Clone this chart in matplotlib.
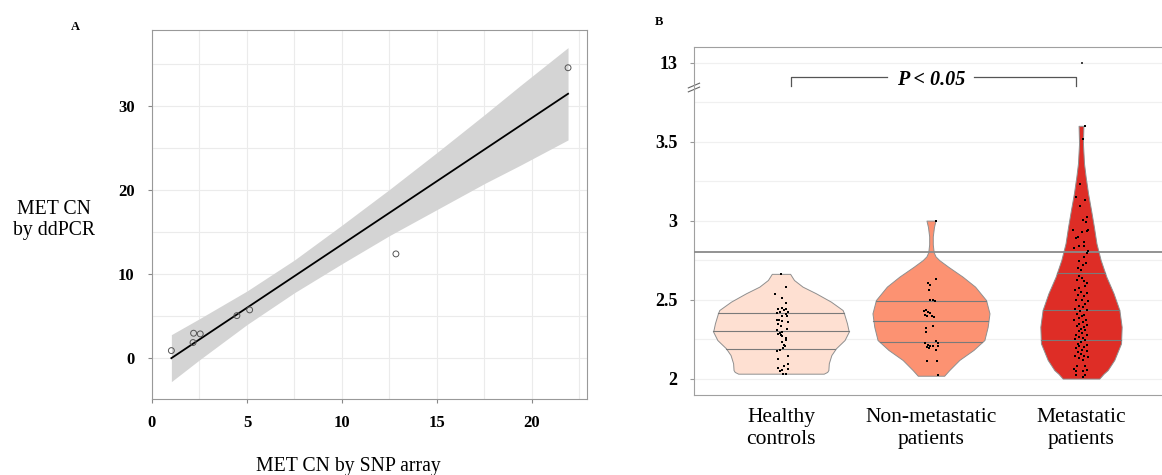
import numpy as np
import matplotlib
matplotlib.use("Agg")
import matplotlib.pyplot as plt

plt.rcParams['font.family'] = ['Liberation Serif', 'DejaVu Serif']

# panel A : MET copy number, SNP array vs ddPCR
snp_cn = [1.02, 2.16, 2.19, 2.54, 4.47, 5.14, 12.84, 21.9]
ddpcr_cn = [0.9, 1.86, 2.97, 2.89, 5.07, 5.75, 12.42, 34.6]
fit_x = [1.02, 21.9]
fit_y = [0.0, 31.5]
band_x = [1.02, 2.5, 5, 7.5, 10, 12.5, 15, 17.5, 19.4, 21.9]
band_lo = [-2.8, -0.2, 4.0, 7.8, 11.25, 14.6, 17.7, 20.8, 23.0, 26.0]
band_hi = [2.8, 4.7, 8.0, 11.7, 15.85, 20.1, 24.5, 29.0, 32.5, 37.0]

# panel B : violins
groups = ['Healthy\ncontrols', 'Non-metastatic\npatients', 'Metastatic\npatients']
fills = ['#FEE0D2', '#FC9272', '#DE2D26']

healthy_prof_y = [2.031, 2.042, 2.054, 2.097, 2.149, 2.192, 2.244, 2.297, 2.35, 2.413, 2.434, 2.487, 2.540, 2.582, 2.624, 2.663]
healthy_prof_w = [0.285, 0.308, 0.316, 0.319, 0.336, 0.367, 0.424, 0.452, 0.44, 0.42, 0.411, 0.333, 0.233, 0.144, 0.087, 0.061]
nonmet_prof_y = [2.018, 2.054, 2.118, 2.181, 2.244, 2.328, 2.413, 2.497, 2.582, 2.645, 2.708, 2.75, 2.774, 2.80, 2.85, 2.90, 2.96, 3.0]
nonmet_prof_w = [0.088, 0.122, 0.189, 0.283, 0.356, 0.378, 0.39, 0.367, 0.294, 0.211, 0.115, 0.055, 0.03, 0.018, 0.012, 0.012, 0.02, 0.03]
met_prof_y = [2.0, 2.03, 2.054, 2.118, 2.223, 2.328, 2.434, 2.54, 2.645, 2.751, 2.856, 2.961, 3.067, 3.173, 3.278, 3.363, 3.489, 3.60]
met_prof_w = [0.122, 0.15, 0.178, 0.222, 0.267, 0.271, 0.256, 0.217, 0.169, 0.131, 0.103, 0.086, 0.067, 0.047, 0.031, 0.02, 0.013, 0.016]

healthy_q = [2.187, 2.300, 2.414]
nonmet_q = [2.230, 2.366, 2.493]
met_q = [2.245, 2.431, 2.667]

healthy_y = [2.660, 2.580, 2.538, 2.511, 2.479, 2.447, 2.443, 2.441, 2.432, 2.420, 2.420, 2.416, 2.411, 2.399, 2.394,
             2.373, 2.369, 2.363, 2.359, 2.348, 2.335, 2.314, 2.306, 2.297, 2.289, 2.281, 2.274, 2.268, 2.257, 2.243,
             2.230, 2.215, 2.205, 2.194, 2.184, 2.173, 2.141, 2.124, 2.095, 2.078, 2.070, 2.063, 2.057, 2.046, 2.032, 2.032]
healthy_dx = [0, 0.033, -0.04, 0.004, 0.033, 0.009, 0.031, -0.022, 0.022, -0.007, 0.044, -0.024, 0.031, 0.004, 0.04,
              -0.024, -0.013, 0.009, 0.044, -0.018, 0, 0.04, -0.029, 0.004, -0.009, -0.018, 0, 0.009, 0.031, 0.036,
              0.004, 0.02, 0.027, 0.016, -0.007, -0.029, 0.044, -0.022, 0.049, 0.022, -0.018, 0.044, 0.004, -0.007, 0.016, 0.031]

nonmet_y = [3.0, 2.633, 2.606, 2.595, 2.563, 2.500, 2.496, 2.489, 2.437, 2.426, 2.420, 2.416, 2.405, 2.399, 2.394, 2.390,
            2.321, 2.331, 2.293, 2.236, 2.226, 2.226, 2.215, 2.209, 2.200, 2.194, 2.205, 2.205, 2.179, 2.110, 2.110, 2.025]
nonmet_dx = [0.033, 0.033, -0.018, -0.004, -0.011, -0.004, 0.011, 0.027, -0.033, -0.044, -0.022, -0.004, -0.04, -0.027, 0.004, 0.018,
             -0.033, 0.011, -0.033, 0.033, -0.038, 0.049, -0.022, -0.004, -0.027, -0.011, 0.011, 0.044, 0.033, -0.027, 0.04, 0.044]

met_y = [3.601, 3.519, 3.232, 3.148, 3.133, 3.095, 3.021, 3.006, 2.992, 2.943, 2.943, 2.928, 2.932, 2.894, 2.890, 2.865, 2.838, 2.838, 2.827, 2.806,
         2.795, 2.770, 2.743, 2.732, 2.722, 2.700, 2.686, 2.652, 2.637, 2.627,
         2.616, 2.606, 2.589, 2.574, 2.563, 2.546, 2.542, 2.532, 2.521, 2.500,
         2.496, 2.489, 2.475, 2.462, 2.454, 2.441, 2.437, 2.426, 2.411, 2.405,
         2.394, 2.384, 2.373, 2.369, 2.357, 2.348, 2.342, 2.331, 2.327, 2.314,
         2.310, 2.300, 2.289, 2.278, 2.278, 2.264, 2.257, 2.251, 2.243, 2.230,
         2.222, 2.215, 2.205, 2.200, 2.194, 2.184, 2.173, 2.167, 2.158, 2.146,
         2.141, 2.137, 2.131, 2.120, 2.082, 2.078, 2.061, 2.057, 2.046, 2.046,
         2.025, 2.021, 2.013]
met_dx = [0.029, 0.016, -0.004, -0.033, 0.027, -0.004, 0.038, 0.011, 0.033, -0.051, 0.044, 0.007, 0.038, -0.022, -0.033, 0.018, -0.016, 0.022, -0.044, 0.044,
          0.038, 0.022, -0.011, 0.033, 0.011, -0.022, 0, -0.011, 0.007, -0.029,
          0.022, 0.038, 0.029, -0.011, -0.038, 0, 0.038, -0.022, 0.022, 0.007,
          -0.033, 0.044, 0.029, -0.016, 0.011, -0.038, 0.038, -0.007, -0.029, 0.022,
          0.007, -0.016, 0.033, -0.044, 0.011, -0.011, 0.038, -0.029, 0.022, 0,
          0.029, -0.016, 0.007, -0.033, 0.038, -0.011, 0.016, -0.038, 0.029, 0,
          -0.022, 0.038, -0.011, 0.022, -0.033, 0.007, 0.038, -0.022, 0, 0.022,
          -0.038, 0.044, -0.011, 0.011, -0.029, 0.029, -0.044, 0.038, -0.033, 0.011,
          -0.033, 0.029, 0.011]
met_outlier = 12.95
cutoff = 2.8


def brk(v):
    # squeeze the 13 region onto the top of the axis
    v = np.asarray(v, dtype=float)
    return np.where(v < 3.9, v, 4.0 + (v - 13) * 0.05)


fig = plt.figure(figsize=(11.62, 4.75), dpi=100)

# ---------- A
ax1 = fig.add_axes([0.1308, 0.1594, 0.3744, 0.7775])
ax1.fill_between(band_x, band_lo, band_hi, color='#D4D4D4', lw=0, zorder=1)
ax1.plot(fit_x, fit_y, color='black', lw=1.3, zorder=2)
ax1.scatter(snp_cn, ddpcr_cn, s=18, facecolors='none', edgecolors='#555555', linewidths=0.7, zorder=3)
ax1.set_xlim(0, 22.9)
ax1.set_ylim(-4.9, 39.1)
ax1.set_xticks([0, 5, 10, 15, 20])
ax1.set_yticks([0, 10, 20, 30])
ax1.set_xticks([2.5, 7.5, 12.5, 17.5, 22.5], minor=True)
ax1.set_yticks([5, 15, 25, 35], minor=True)
ax1.grid(which='both', color='#EBEBEB', lw=0.8)
ax1.set_axisbelow(True)
ax1.tick_params(which='minor', length=0)
ax1.tick_params(which='major', length=3, color='#888888', labelsize=12)
ax1.tick_params(axis='y', pad=9.5)
ax1.tick_params(axis='x', pad=8)
for lab in ax1.get_xticklabels() + ax1.get_yticklabels():
    lab.set_fontweight('bold')
for sp in ax1.spines.values():
    sp.set_color('#999999')

fig.text(348 / 1162, 1 - 467 / 475, 'MET CN by SNP array', ha='center', va='center', fontsize=14.2)
fig.text(54 / 1162, 1 - 220 / 475, 'MET CN\nby ddPCR', ha='center', va='center', fontsize=14.2, linespacing=1.2)
fig.text(75 / 1162, 1 - 27 / 475, 'A', ha='center', va='center', fontsize=9, fontweight='bold')

# ---------- B
ax2 = fig.add_axes([0.5972, 0.1684, 0.4028, 0.7320])
profiles = [(healthy_prof_y, healthy_prof_w, healthy_q, healthy_y, healthy_dx),
            (nonmet_prof_y, nonmet_prof_w, nonmet_q, nonmet_y, nonmet_dx),
            (met_prof_y, met_prof_w, met_q, met_y, met_dx)]
for i, (py, pw, qs, ys, dxs) in enumerate(profiles):
    pos = i + 1
    pw = np.array(pw)
    ax2.fill_betweenx(py, pos - pw, pos + pw, facecolor=fills[i], edgecolor='#8F8F8F', lw=0.7, zorder=2)
    for q in qs:
        w = np.interp(q, py, pw)
        ax2.plot([pos - w, pos + w], [q, q], color='#7A7A7A', lw=0.8, zorder=3)
    ax2.scatter(pos + np.array(dxs), ys, marker='s', s=3, c='black', lw=0, zorder=5)

ax2.scatter([3.01], brk([met_outlier]), marker='s', s=2, c='#444444', lw=0, zorder=5)
ax2.axhline(cutoff, color='#8A8A8A', lw=1.3, zorder=4)

# bracket with p value
ax2.plot([1.07, 1.07, 1.71], [3.852, 3.907, 3.907], color='#555555', lw=0.9)
ax2.plot([2.29, 2.97, 2.97], [3.907, 3.907, 3.852], color='#555555', lw=0.9)
ax2.text(2.0, 3.888, 'P < 0.05', ha='center', va='center', fontsize=14.5, fontweight='bold', fontstyle='italic')

ax2.set_xlim(0.42, 3.54)
ax2.set_ylim(1.896, 4.097)
ax2.set_yticks([2, 2.5, 3, 3.5, 4.0])
ax2.set_yticklabels(['2', '2.5', '3', '3.5', '13'], fontweight='bold')
ax2.set_yticks([2.25, 2.75, 3.25, 3.75], minor=True)
ax2.set_xticks([1, 2, 3])
ax2.set_xticklabels(groups, fontsize=15.5, linespacing=1.25)
ax2.grid(axis='y', which='both', color='#F0F0F0', lw=0.9)
ax2.set_axisbelow(True)
ax2.tick_params(axis='y', which='major', length=3, color='#999999', labelsize=13, pad=9)
ax2.tick_params(axis='y', which='minor', length=0)
ax2.tick_params(axis='x', length=0, pad=9)
ax2.spines['right'].set_visible(False)
for sp in ['left', 'top', 'bottom']:
    ax2.spines[sp].set_color('#A0A0A0')

# axis break marks
for off in (0.0, 0.025):
    ax2.plot([-0.012, 0.012], [3.815 + off, 3.845 + off], transform=ax2.get_yaxis_transform(),
             clip_on=False, color='#666666', lw=0.8)

fig.text(659 / 1162, 1 - 22 / 475, 'B', ha='center', va='center', fontsize=9, fontweight='bold')

plt.savefig('out.png', dpi=100)
